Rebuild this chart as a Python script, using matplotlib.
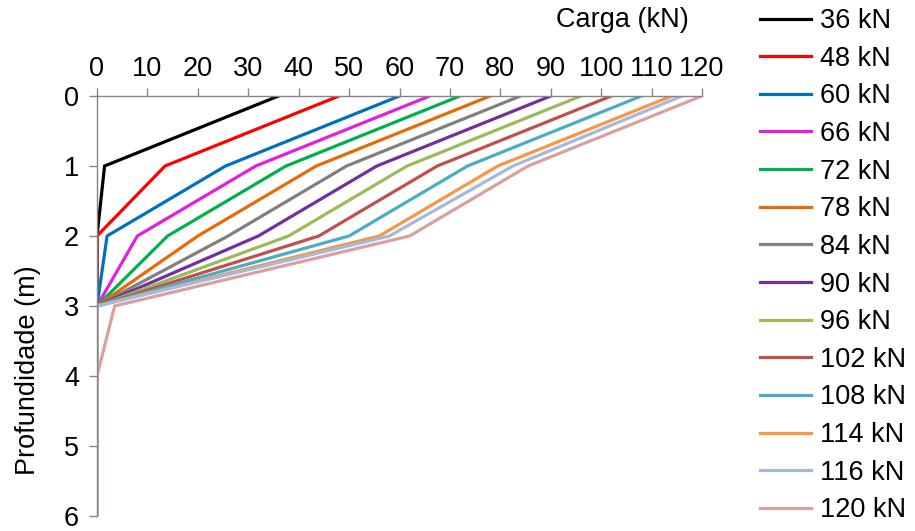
import matplotlib
matplotlib.use("Agg")
import matplotlib.pyplot as plt

plt.rcParams['font.family'] = ['Liberation Sans', 'DejaVu Sans']

depth = [0, 1, 2, 3, 4, 5, 6]
labels = ["36 kN", "48 kN", "60 kN", "66 kN", "72 kN", "78 kN", "84 kN",
          "90 kN", "96 kN", "102 kN", "108 kN", "114 kN", "116 kN", "120 kN"]
s36 = [36, 1.5, 0, 0, 0, 0, 0]
s48 = [48, 13.5, 0, 0, 0, 0, 0]
s60 = [60, 25.5, 2, 0, 0, 0, 0]
s66 = [66, 31.5, 8, 0, 0, 0, 0]
s72 = [72, 37.5, 14, 0, 0, 0, 0]
s78 = [78, 43.5, 20, 0, 0, 0, 0]
s84 = [84, 49.5, 26, 0, 0, 0, 0]
s90 = [90, 55.5, 32, 0, 0, 0, 0]
s96 = [96, 61.5, 38, 0, 0, 0, 0]
s102 = [102, 67.5, 44, 0, 0, 0, 0]
s108 = [108, 73.5, 50, 0, 0, 0, 0]
s114 = [114, 79.5, 56, 0, 0, 0, 0]
s116 = [116, 82.5, 58, 0, 0, 0, 0]
s120 = [120, 85.5, 62, 3.5, 0, 0, 0]
series = [s36, s48, s60, s66, s72, s78, s84, s90, s96, s102, s108, s114, s116, s120]
colors = ["#000000", "#FF0000", "#0070C0", "#E020E0", "#00B050", "#E36C09",
          "#808080", "#7030A0", "#9BBB59", "#C0504D", "#4BACC6", "#F79646",
          "#A5B9DB", "#D9A0A0"]
xticks = list(range(0, 121, 10))
yticks = [0, 1, 2, 3, 4, 5, 6]

fig = plt.figure(figsize=(9.15, 5.31), dpi=100)
ax = fig.add_axes([97/915, 1-516/531, (702-97)/915, (516-96)/531])

lines = []
for vals, c, lab in zip(series, colors, labels):
    ln, = ax.plot(vals, depth, color=c, lw=2.3, label=lab, solid_joinstyle='miter')
    lines.append(ln)

ax.set_xlim(0, 120)
ax.set_ylim(6, 0)
ax.set_xticks(xticks)
ax.set_yticks(yticks)
ax.xaxis.tick_top()
for side in ['right', 'bottom']:
    ax.spines[side].set_visible(False)
for side in ['top', 'left']:
    ax.spines[side].set_color('#868686')
    ax.spines[side].set_linewidth(1.0)
ax.tick_params(axis='x', direction='out', length=6, width=1, color='#868686',
               labelsize=19.5, pad=4)
ax.tick_params(axis='y', direction='out', length=6, width=1, color='#868686',
               labelsize=19.5, pad=7)

fig.text(622/915, 1-20/531, "Carga (kN)", fontsize=19.5, ha='center', va='center')
fig.text(28/915, 1-370/531, "Profundidade (m)", fontsize=19.5, ha='center',
         va='center', rotation=90)

fig.legend(handles=lines, loc='upper left', bbox_to_anchor=(760/915, 1-8/531),
           frameon=False, fontsize=19.5, handlelength=1.9, handletextpad=0.3,
           labelspacing=0.43, borderpad=0, borderaxespad=0)

fig.savefig("out.png", dpi=100)
